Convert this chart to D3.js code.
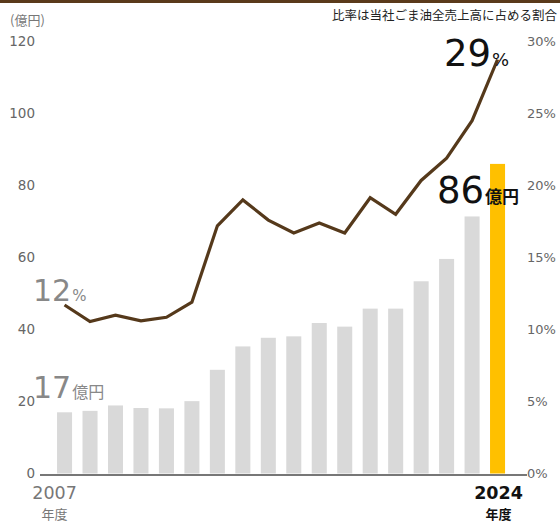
<!DOCTYPE html>
<html lang="ja">
<head>
<meta charset="UTF-8">
<title>ごま油 売上高と比率</title>
<script src="https://cdn.jsdelivr.net/npm/d3@7"></script>
<style>
    body { margin: 0; background: #fff; }
    svg { display: block; font-family: "DejaVu Sans", "Noto Sans CJK JP", sans-serif; }
    .jp { font-family: "Noto Sans CJK JP", sans-serif; }
</style>
</head>
<body>
<script>
    // 年度
    var years = d3.range(2007, 2025);
    // ごま油売上高（億円）
    var sales = [17, 17.4, 18.9, 18.2, 18.1, 20.1, 28.8, 35.3, 37.7, 38.1, 41.8, 40.8, 45.8, 45.8, 53.4, 59.6, 71.4, 86];
    // 全売上高に占める割合（%）
    var ratio = [11.7, 10.55, 11.0, 10.6, 10.85, 11.9, 17.2, 19.0, 17.6, 16.7, 17.4, 16.7, 19.15, 18.0, 20.35, 21.9, 24.5, 28.75];
    var leftTicks = [0, 20, 40, 60, 80, 100, 120];
    var rightTicks = [0, 5, 10, 15, 20, 25, 30];

    var W = 560, H = 523;
    var svg = d3.select("body").append("svg").attr("width", W).attr("height", H);

    var x = d3.scaleBand().domain(years).range([49.4, 512.7]).paddingInner(0.41).paddingOuter(0.3);
    var yL = d3.scaleLinear().domain([0, 120]).range([473.5, 41.5]);
    var yR = d3.scaleLinear().domain([0, 30]).range([473.5, 41.5]);

    // top rule
    svg.append("rect").attr("x", 0).attr("y", 0).attr("width", W).attr("height", 3).attr("fill", "#5a3a1b");

    // bars
    svg.append("g").selectAll("rect").data(years).enter().append("rect")
        .attr("x", function (d) { return x(d); })
        .attr("y", function (d, i) { return yL(sales[i]); })
        .attr("width", x.bandwidth())
        .attr("height", function (d, i) { return yL(0) - yL(sales[i]); })
        .attr("fill", function (d, i) { return i == years.length - 1 ? "#ffc000" : "#d9d9d9"; });

    // baseline
    svg.append("line").attr("x1", 40).attr("x2", 527).attr("y1", 475).attr("y2", 475)
        .attr("stroke", "#777").attr("stroke-width", 2);

    // left axis
    var axL = svg.append("g").attr("transform", "translate(35,0)")
        .call(d3.axisLeft(yL).tickValues(leftTicks).tickSize(0).tickPadding(0));
    axL.select(".domain").remove();
    axL.selectAll("text").attr("font-size", 13.5).attr("fill", "#666").attr("font-family", "DejaVu Sans");

    // right axis
    var axR = svg.append("g").attr("transform", "translate(527,0)")
        .call(d3.axisRight(yR).tickValues(rightTicks).tickSize(0).tickPadding(0).tickFormat(function (d) { return d + "%"; }));
    axR.select(".domain").remove();
    axR.selectAll("text").attr("font-size", 13).attr("fill", "#666").attr("font-family", "DejaVu Sans");

    // ratio line
    var line = d3.line()
        .x(function (d, i) { return x(years[i]) + x.bandwidth() / 2; })
        .y(function (d) { return yR(d); });
    svg.append("path").datum(ratio).attr("d", line)
        .attr("fill", "none").attr("stroke", "#55391b").attr("stroke-width", 3.2)
        .attr("stroke-linejoin", "miter");

    // unit & note
    svg.append("text").attr("class", "jp").attr("x", 10).attr("y", 25).attr("font-size", 13).attr("fill", "#777").text("(億円)");
    svg.append("text").attr("class", "jp").attr("x", 557).attr("y", 20).attr("text-anchor", "end").attr("font-size", 12.5)
        .attr("fill", "#222").text("比率は当社ごま油全売上高に占める割合");

    // x labels
    var first = x(years[0]) + x.bandwidth() / 2, last = x(years[years.length - 1]) + x.bandwidth() / 2;
    svg.append("text").attr("x", first - 10).attr("y", 498.5).attr("text-anchor", "middle")
        .attr("font-size", 17.5).attr("fill", "#777").text(years[0]);
    svg.append("text").attr("class", "jp").attr("x", first - 10).attr("y", 518.5).attr("text-anchor", "middle")
        .attr("font-size", 13).attr("fill", "#777").text("年度");
    svg.append("text").attr("x", last + 1).attr("y", 498.5).attr("text-anchor", "middle")
        .attr("font-size", 17.5).attr("font-weight", "bold").attr("fill", "#111").text(years[years.length - 1]);
    svg.append("text").attr("class", "jp").attr("x", last + 1).attr("y", 518.5).attr("text-anchor", "middle")
        .attr("font-size", 13).attr("font-weight", "bold").attr("fill", "#111").text("年度");

    // callouts
    function callout(xp, yp, big, small, bs, ss, col, sw, jp) {
        var t = svg.append("text").attr("x", xp).attr("y", yp).attr("fill", col);
        t.append("tspan").attr("font-size", bs).text(big);
        t.append("tspan").attr("font-size", ss).attr("font-weight", sw).attr("dx", 1)
            .attr("font-family", jp ? "Noto Sans CJK JP" : "DejaVu Sans").text(small);
    }
    callout(33, 301, Math.round(ratio[0]), "%", 30, 15, "#888", "normal", false);
    callout(33, 398, Math.round(sales[0]), "億円", 30, 16, "#888", "normal", true);
    callout(444, 66, Math.round(ratio[ratio.length - 1]), "%", 37, 18, "#111", "normal", false);
    callout(437, 203, sales[sales.length - 1], "億円", 37, 17, "#111", "bold", true);
</script>
</body>
</html>
